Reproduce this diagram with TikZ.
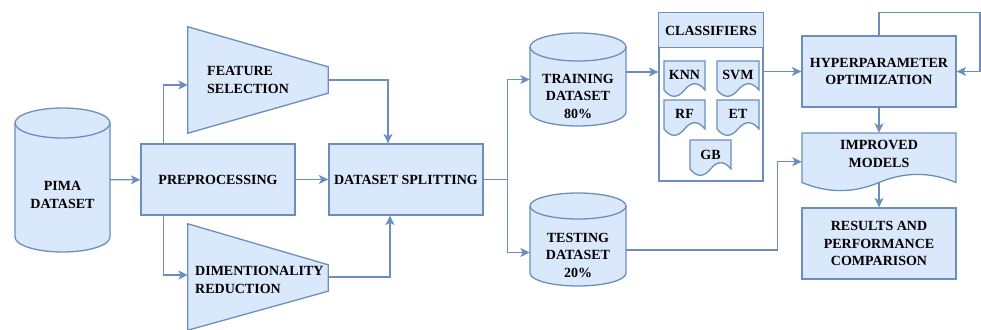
\documentclass[tikz,border=0pt]{standalone}
\usepackage{fontspec}
\setmainfont{Liberation Serif}
\usetikzlibrary{arrows.meta,calc}
\definecolor{strokec}{HTML}{6C8EBF}
\definecolor{fillc}{HTML}{DAE8FC}
% cylinder: x left, y top, width, height, ellipse y-radius (pixel units, y downwards)
\newcommand\cylshape[5]{%
  \pgfmathsetmacro\cylR{#3/2}%
  \draw[shp] (#1,#2+#5) -- (#1,#2+#4-#5)
    arc[start angle=180,end angle=360,x radius=\cylR pt,y radius=#5 pt]
    -- (#1+#3,#2+#5)
    arc[start angle=0,end angle=180,x radius=\cylR pt,y radius=#5 pt] -- cycle;
  \draw[ln] (#1,#2+#5) arc[start angle=180,end angle=360,x radius=\cylR pt,y radius=#5 pt];
}
% document shape: x left, y top, width, height, wave size
\newcommand\docshape[5]{%
  \draw[shp] (#1,#2) -- (#1+#3,#2) -- (#1+#3,#2+#4-#5/2)
    .. controls (#1+#3-#3/6,#2+#4-#5/2-0.6*#5) and (#1+#3/2+#3/6,#2+#4-#5/2-0.6*#5) .. (#1+#3/2,#2+#4-#5/2)
    .. controls (#1+#3/2-#3/6,#2+#4-#5/2+0.6*#5) and (#1+#3/6,#2+#4-#5/2+0.6*#5) .. (#1,#2+#4-#5/2)
    -- cycle;
}
\begin{document}
\begin{tikzpicture}[x=1pt,y=-1pt,
  shp/.style={draw=strokec,fill=fillc,line width=1.3pt},
  ln/.style={draw=strokec,line width=1.3pt},
  arr/.style={ln,-{Stealth[length=9.5pt,width=9pt,inset=2.5pt]}},
  txt/.style={font=\fontsize{14}{17.5}\selectfont\bfseries,align=center,text=black,inner sep=0pt},
  box/.style 2 args={shape=rectangle,inner sep=0pt,minimum width=#1pt,minimum height=#2pt}]
\useasboundingbox (0,0) rectangle (981,329);

% PIMA dataset
\node[box={95}{144}] (pima) at (62.5,180) {};
\cylshape{15}{108}{95}{144}{15}
\node[txt] at (62.5,195) {PIMA\\DATASET};

% Preprocessing and splitting
\node[shp,box={154}{71},txt] (pre) at (218,179.5) {PREPROCESSING};
\node[shp,box={154}{71},txt] (ds) at (406,179.5) {DATASET SPLITTING};

% Feature selection
\node[box={140}{106}] (fs) at (258,80) {};
\draw[shp] (fs.north west) -- ([yshift=-40pt]fs.north east) -- ([yshift=40pt]fs.south east) -- (fs.south west) -- cycle;
\node[txt,align=left,anchor=west] at (207,80) {FEATURE\\SELECTION};

% Dimentionality reduction
\node[box={140}{106}] (dr) at (258,277) {};
\draw[shp] (dr.north west) -- ([yshift=-41pt]dr.north east) -- ([yshift=39pt]dr.south east) -- (dr.south west) -- cycle;
\node[txt,align=left,anchor=west] at (195,280) {DIMENTIONALITY\\REDUCTION};

% Training / testing
\node[box={96}{93}] (train) at (578,79.5) {};
\cylshape{530}{33}{96}{93}{14}
\node[txt] at (578,96) {TRAINING\\DATASET\\80\%};
\node[box={96}{93}] (test) at (578,239.5) {};
\cylshape{530}{193}{96}{93}{13}
\node[txt] at (578,255) {TESTING\\DATASET\\20\%};

% Classifiers
\node[box={104}{168},draw=strokec,fill=white,line width=1.3pt] (cls) at (711,97) {};
\draw[shp] (cls.north west) rectangle ([yshift=-35pt]cls.north east);
\node[txt] at (711,31) {CLASSIFIERS};
\docshape{664}{61}{41}{36}{14}
\node[txt] (knn) at (684.5,74.5) {KNN};
\docshape{717}{61}{42}{36}{14}
\node[txt] (svm) at (738,74.5) {SVM};
\docshape{664}{100}{41}{36}{14}
\node[txt] (rf) at (684.5,113.5) {RF};
\docshape{717}{100}{42}{36}{14}
\node[txt] (et) at (738,113.5) {ET};
\docshape{690}{140}{41}{36}{14}
\node[txt] (gb) at (710.5,155) {GB};

% Right column
\node[shp,box={154}{71},txt] (ho) at (879,71.5) {HYPERPARAMETER\\OPTIMIZATION};
\node[box={154}{49.5}] (imp) at (879,157.75) {};
\docshape{802}{133}{154}{58.5}{18}
\node[txt] at (879,154) {IMPROVED\\MODELS};
\node[shp,box={154}{71},txt] (res) at (879,243.5) {RESULTS AND\\PERFORMANCE\\COMPARISON};

% Connectors
\draw[arr] (pima) -- (pre);
\draw[arr] ([xshift=23pt]pre.north west) |- ([yshift=-5pt]fs.west);
\draw[arr] ([xshift=23pt]pre.south west) |- ([yshift=2pt]dr.west);
\draw[arr] (pre) -- (ds);
\draw[arr] (fs.east) -| ([xshift=-18pt]ds.north);
\draw[arr] (dr.east) -| ([xshift=-16pt]ds.south);
\draw[ln] (ds.east) -- ++(24,0) coordinate (j);
\draw[arr] (j) |- (train.west);
\draw[arr] (j) |- ([yshift=-13pt]test.west);
\coordinate (tro) at ([yshift=7.5pt]train.east);
\draw[arr] (tro) -- (tro -| cls.west);
\draw[arr] (cls.east |- ho.west) -- (ho.west);
\draw[arr] (ho.north) -- ++(0,-23) -- ++(101,0) |- (ho.east);
\draw[arr] (ho) -- (imp);
\draw[arr] (imp) -- (res);
\coordinate (teo) at ([yshift=-10.5pt]test.east);
\coordinate (imin) at ([yshift=-4pt]imp.west);
\draw[arr] (teo) -| ([xshift=-24pt]imin) -- (imin);
\end{tikzpicture}
\end{document}
